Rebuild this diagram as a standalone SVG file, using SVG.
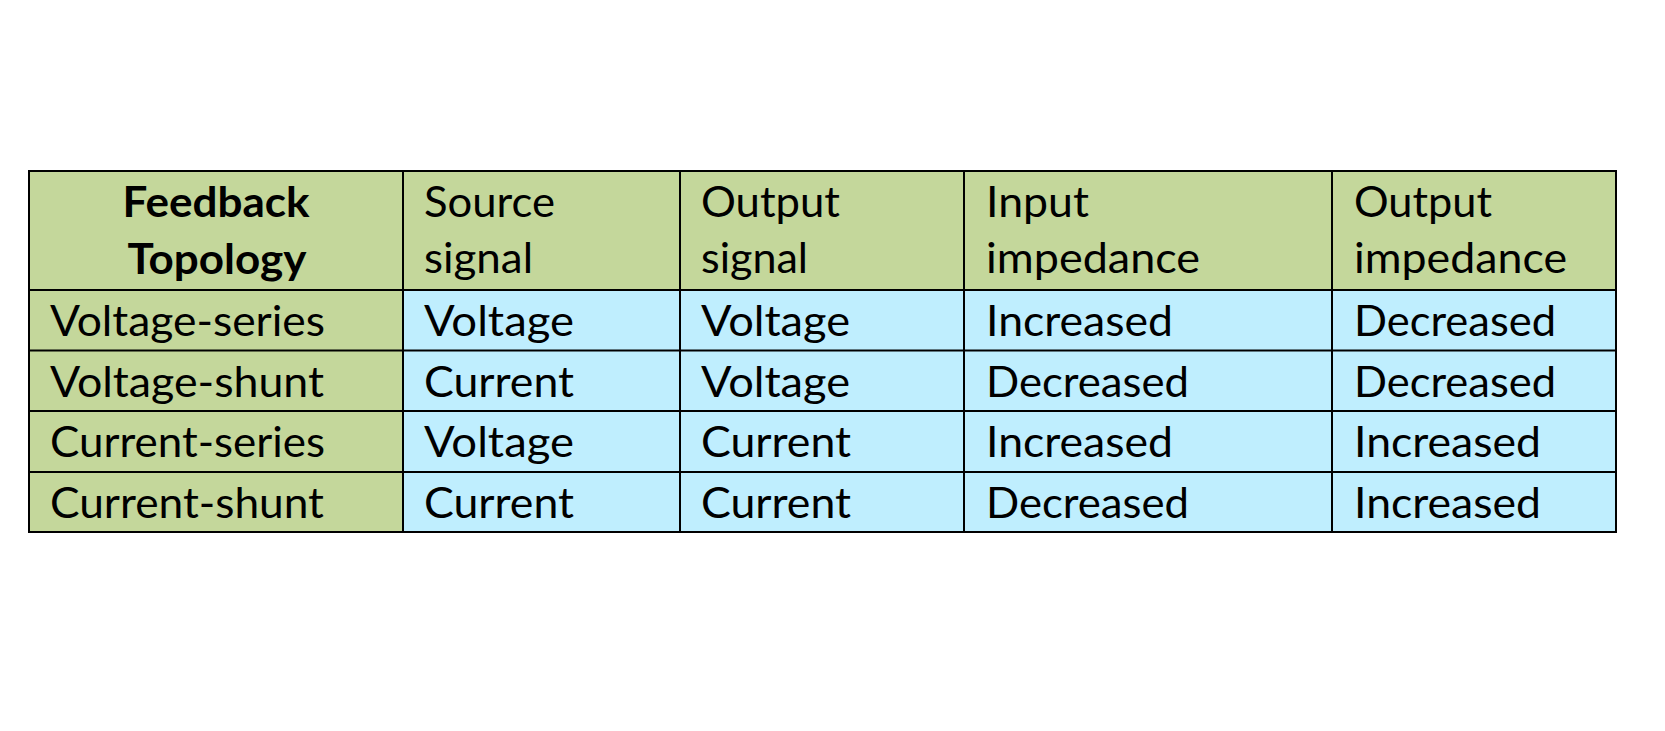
<svg xmlns="http://www.w3.org/2000/svg" width="1665" height="731" viewBox="0 0 1665 731">
<style>
.g{fill:#C4D79B}
.b{fill:#BFEEFE}
text{font-family:Lato,"Open Sans","Liberation Sans",sans-serif;font-size:42px;fill:#000}
.h{font-weight:bold;text-anchor:middle}
.grid{stroke:#000;stroke-width:2;fill:none}
</style>
<rect width="1665" height="731" fill="#fff"/>
<g id="header">
<g id="h-topology"><rect class="g" x="29" y="171" width="374" height="119"/>
<text class="h" x="216" y="217" textLength="187" lengthAdjust="spacingAndGlyphs">Feedback</text>
<text class="h" x="217" y="274" textLength="179" lengthAdjust="spacingAndGlyphs">Topology</text></g>
<g id="h-source"><rect class="g" x="403" y="171" width="277" height="119"/>
<text x="424" y="217" textLength="131" lengthAdjust="spacingAndGlyphs">Source</text>
<text x="424" y="273" textLength="109" lengthAdjust="spacingAndGlyphs">signal</text></g>
<g id="h-output"><rect class="g" x="680" y="171" width="284" height="119"/>
<text x="701" y="217" textLength="139" lengthAdjust="spacingAndGlyphs">Output</text>
<text x="701" y="273" textLength="107" lengthAdjust="spacingAndGlyphs">signal</text></g>
<g id="h-inimp"><rect class="g" x="964" y="171" width="368" height="119"/>
<text x="986" y="217" textLength="103" lengthAdjust="spacingAndGlyphs">Input</text>
<text x="986" y="273" textLength="214" lengthAdjust="spacingAndGlyphs">impedance</text></g>
<g id="h-outimp"><rect class="g" x="1332" y="171" width="284" height="119"/>
<text x="1354" y="217" textLength="138" lengthAdjust="spacingAndGlyphs">Output</text>
<text x="1354" y="273" textLength="213" lengthAdjust="spacingAndGlyphs">impedance</text></g>
</g>
<g id="row1">
<rect class="g" x="29" y="290" width="374" height="60.5"/>
<rect class="b" x="403" y="290" width="1213" height="60.5"/>
<text x="50" y="336" textLength="275" lengthAdjust="spacingAndGlyphs">Voltage-series</text>
<text x="424" y="336" textLength="150" lengthAdjust="spacingAndGlyphs">Voltage</text>
<text x="701" y="336" textLength="149" lengthAdjust="spacingAndGlyphs">Voltage</text>
<text x="986" y="336" textLength="187" lengthAdjust="spacingAndGlyphs">Increased</text>
<text x="1354" y="336" textLength="202" lengthAdjust="spacingAndGlyphs">Decreased</text>
</g>
<g id="row2">
<rect class="g" x="29" y="350.5" width="374" height="60.5"/>
<rect class="b" x="403" y="350.5" width="1213" height="60.5"/>
<text x="50" y="396.5" textLength="274" lengthAdjust="spacingAndGlyphs">Voltage-shunt</text>
<text x="424" y="396.5" textLength="150" lengthAdjust="spacingAndGlyphs">Current</text>
<text x="701" y="396.5" textLength="149" lengthAdjust="spacingAndGlyphs">Voltage</text>
<text x="986" y="396.5" textLength="203" lengthAdjust="spacingAndGlyphs">Decreased</text>
<text x="1354" y="396.5" textLength="202" lengthAdjust="spacingAndGlyphs">Decreased</text>
</g>
<g id="row3">
<rect class="g" x="29" y="411" width="374" height="61"/>
<rect class="b" x="403" y="411" width="1213" height="61"/>
<text x="50" y="457" textLength="275" lengthAdjust="spacingAndGlyphs">Current-series</text>
<text x="424" y="457" textLength="150" lengthAdjust="spacingAndGlyphs">Voltage</text>
<text x="701" y="457" textLength="150" lengthAdjust="spacingAndGlyphs">Current</text>
<text x="986" y="457" textLength="187" lengthAdjust="spacingAndGlyphs">Increased</text>
<text x="1354" y="457" textLength="187" lengthAdjust="spacingAndGlyphs">Increased</text>
</g>
<g id="row4">
<rect class="g" x="29" y="472" width="374" height="60"/>
<rect class="b" x="403" y="472" width="1213" height="60"/>
<text x="50" y="517.5" textLength="274" lengthAdjust="spacingAndGlyphs">Current-shunt</text>
<text x="424" y="517.5" textLength="150" lengthAdjust="spacingAndGlyphs">Current</text>
<text x="701" y="517.5" textLength="150" lengthAdjust="spacingAndGlyphs">Current</text>
<text x="986" y="517.5" textLength="203" lengthAdjust="spacingAndGlyphs">Decreased</text>
<text x="1354" y="517.5" textLength="187" lengthAdjust="spacingAndGlyphs">Increased</text>
</g>
<g id="connectors" class="grid">
<rect x="29" y="171" width="1587" height="361"/>
<path d="M403 171V532M680 171V532M964 171V532M1332 171V532M29 290H1616M29 350.5H1616M29 411H1616M29 472H1616"/>
</g>
</svg>
